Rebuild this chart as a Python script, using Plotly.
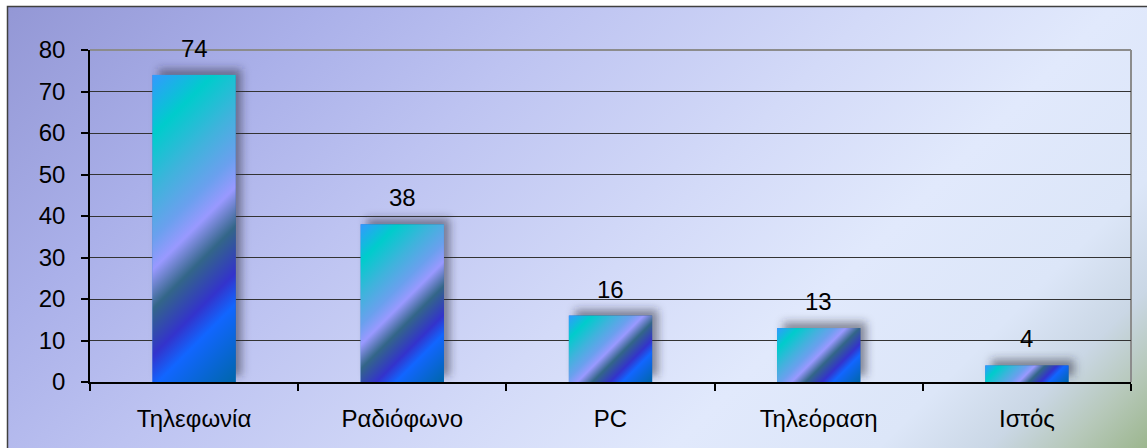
import base64
import plotly.graph_objects as go

# Data
categories = ["Τηλεφωνία", "Ραδιόφωνο", "PC", "Τηλεόραση", "Ιστός"]
values = [74, 38, 16, 13, 4]
y_ticks = [0, 10, 20, 30, 40, 50, 60, 70, 80]

# Canvas / plot-area geometry (pixels)
W, H = 1147, 448
L, R, T, B = 90, 16, 50, 66
PW, PH = W - L - R, H - T - B
Y_MAX = 80
BAR_W = 0.4
px_cat = PW / len(categories)
px_unit = PH / Y_MAX

FONT = "Arial, 'Liberation Sans', sans-serif"


def svg_uri(svg):
    return "data:image/svg+xml;base64," + base64.b64encode(svg.encode("utf-8")).decode()


def px_to_paper_x(px):
    return (px - L) / PW


def px_to_paper_y(py):
    return (H - B - py) / PH


# Chart-area background: diagonal purple -> pale -> green wash
bx0, by0 = 7, 6
bw, bh = W - bx0, H - by0
s = (bw + bh) / 2
bg_stops = [(0.0, "#9397d5"), (0.2, "#aab0e9"), (0.35, "#bdc3f1"), (0.55, "#d3daf8"),
            (0.7, "#e1e9fc"), (0.83, "#dce6f8"), (0.9, "#cad7e5"), (0.95, "#b6c8b9"),
            (1.0, "#9cb68e")]
bg_svg = (
    f"<svg xmlns='http://www.w3.org/2000/svg' width='{bw}' height='{bh}' "
    f"viewBox='0 0 {bw} {bh}' preserveAspectRatio='none'><defs>"
    f"<linearGradient id='g' gradientUnits='userSpaceOnUse' x1='0' y1='0' x2='{s}' y2='{s}'>"
    + "".join(f"<stop offset='{o}' stop-color='{c}'/>" for o, c in bg_stops)
    + f"</linearGradient></defs><rect width='{bw}' height='{bh}' fill='url(#g)'/></svg>"
)

# Bar fill: diagonal multi-colour gradient with a soft drop shadow
bar_stops = [(0.0, "#3399ff"), (0.155, "#00cccc"), (0.3, "#3fb3dc"), (0.42, "#6aa0ee"),
             (0.5, "#9999ff"), (0.6, "#336688"), (0.72, "#3333cc"), (0.8, "#1166ff"),
             (1.0, "#0066aa")]
PAD = 20


def bar_svg(w, h):
    tw, th = w + 2 * PAD, h + 2 * PAD
    d = (w + h) / 2
    return (
        f"<svg xmlns='http://www.w3.org/2000/svg' width='{tw:.2f}' height='{th:.2f}' "
        f"viewBox='0 0 {tw:.2f} {th:.2f}' preserveAspectRatio='none'><defs>"
        f"<linearGradient id='b' gradientUnits='userSpaceOnUse' x1='{PAD}' y1='{PAD}' "
        f"x2='{PAD + d:.2f}' y2='{PAD + d:.2f}'>"
        + "".join(f"<stop offset='{o}' stop-color='{c}'/>" for o, c in bar_stops)
        + "</linearGradient>"
        "<filter id='f' x='-50%' y='-50%' width='200%' height='200%'>"
        "<feGaussianBlur stdDeviation='4'/></filter></defs>"
        f"<rect x='{PAD + 6}' y='{PAD - 6}' width='{w:.2f}' height='{h:.2f}' "
        "fill='#2a2a3a' fill-opacity='0.5' filter='url(#f)'/>"
        f"<rect x='{PAD}' y='{PAD}' width='{w:.2f}' height='{h:.2f}' fill='url(#b)'/></svg>"
    )


images = [dict(
    source=svg_uri(bg_svg), xref="paper", yref="paper",
    x=px_to_paper_x(bx0), y=px_to_paper_y(by0),
    sizex=bw / PW, sizey=bh / PH, xanchor="left", yanchor="top",
    sizing="stretch", layer="below",
)]

xs = list(range(len(categories)))
for i, v in zip(xs, values):
    w = BAR_W * px_cat
    h = v * px_unit
    images.append(dict(
        source=svg_uri(bar_svg(w, h)), xref="x", yref="y",
        x=i - BAR_W / 2 - PAD / px_cat, y=v + PAD / px_unit,
        sizex=(w + 2 * PAD) / px_cat, sizey=(h + 2 * PAD) / px_unit,
        xanchor="left", yanchor="top", sizing="stretch", layer="above",
    ))

fig = go.Figure(go.Bar(
    x=xs, y=values, width=BAR_W,
    marker=dict(color="#3a80e0", line=dict(width=0)),
    hoverinfo="skip",
))

annotations = [dict(
    x=i, y=v, xref="x", yref="y", text=str(v), showarrow=False,
    yanchor="bottom", yshift=11, font=dict(family=FONT, size=24, color="#000"),
) for i, v in zip(xs, values)]

shapes = [
    # outer chart border (right and bottom run off the canvas)
    dict(type="rect", xref="paper", yref="paper",
         x0=px_to_paper_x(bx0 + 0.5), x1=px_to_paper_x(W + 10),
         y0=px_to_paper_y(H + 10), y1=px_to_paper_y(by0 + 0.5),
         line=dict(color="#404040", width=1.5), layer="above"),
    # plot-area top and right border
    dict(type="line", xref="paper", yref="paper", x0=0, x1=1, y0=1, y1=1,
         line=dict(color="#8c8c8c", width=2), layer="below"),
    dict(type="line", xref="paper", yref="paper", x0=1, x1=1, y0=0, y1=1,
         line=dict(color="#8c8c8c", width=2), layer="below"),
]

fig.update_layout(
    width=W, height=H,
    margin=dict(l=L, r=R, t=T, b=B, pad=0),
    paper_bgcolor="white", plot_bgcolor="rgba(0,0,0,0)",
    font=dict(family=FONT, size=24, color="#000"),
    showlegend=False, bargap=0.6,
    images=images, annotations=annotations, shapes=shapes,
    xaxis=dict(
        range=[-0.5, len(categories) - 0.5], tickvals=xs, ticktext=categories,
        ticks="", showgrid=False, zeroline=False,
        showline=True, linecolor="#000", linewidth=1.5,
        minor=dict(ticks="outside", tick0=0.5, dtick=1, ticklen=7,
                   tickcolor="#000", tickwidth=1.5, showgrid=False),
        ticklabelstandoff=14, tickfont=dict(family=FONT, size=24),
        fixedrange=True,
    ),
    yaxis=dict(
        range=[0, Y_MAX], tickvals=y_ticks,
        ticks="outside", ticklen=7, tickcolor="#000", tickwidth=1.5,
        showgrid=True, gridcolor="#333333", gridwidth=1,
        showline=True, linecolor="#000", linewidth=1.5, zeroline=False,
        ticklabelstandoff=11, tickfont=dict(family=FONT, size=24),
        fixedrange=True,
    ),
)

fig.write_html("out.html", config=dict(displayModeBar=False))
